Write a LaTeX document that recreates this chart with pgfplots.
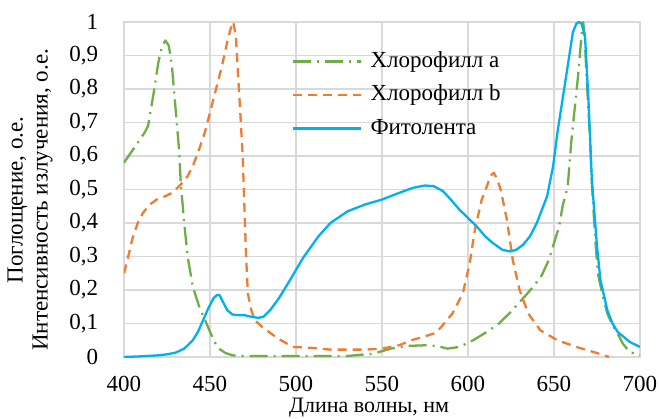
\documentclass[border=0pt]{standalone}
\usepackage{fontspec}
\setmainfont{Liberation Serif}
\usepackage{pgfplots}
\pgfplotsset{compat=1.18}
\definecolor{cga}{HTML}{70AD47}
\definecolor{cgb}{HTML}{ED7D31}
\definecolor{cfl}{HTML}{00B0F0}
\definecolor{gridc}{HTML}{D9D9D9}
\begin{document}
\fontsize{23}{26}\selectfont
\begin{tikzpicture}
\begin{axis}[
  scale only axis, width=516pt, height=335pt,
  xmin=400, xmax=700, ymin=0, ymax=1,
  xtick={400,450,...,700}, ytick={0,0.1,...,1},
  grid=major, major grid style={gridc, line width=1.3pt},
  axis line style={gridc, line width=1.3pt},
  major tick length=0pt,
  /pgf/number format/assume math mode=true,
  tick label style={font=\fontsize{23}{26}\selectfont},
  xticklabel style={anchor=base, yshift=-34pt, inner sep=0.5pt},
  yticklabel style={anchor=east, xshift=-18pt, /pgf/number format/.cd, fixed, precision=1, use comma},
  xlabel={Длина волны, нм},
  xlabel style={at={(axis description cs:0.475,-0.167)}, anchor=base, inner sep=0pt, font=\fontsize{22}{25}\selectfont},
  ylabel={Поглощение, о.е.\\Интенсивность излучения, о.е.},
  ylabel style={at={(axis description cs:-0.182,0.469)}, anchor=center, align=center, font=\fontsize{23}{25}\selectfont},
  legend style={draw=none, fill=none, inner sep=0pt, outer sep=0pt,
    at={(axis description cs:0.326,0.913)}, anchor=north west,
    nodes={inner sep=0pt, text height=16pt, text depth=5pt, font=\fontsize{23}{26}\selectfont},
    row sep=12.5pt, column sep=8pt},
  legend cell align=left,
  legend image code/.code={\draw[#1] (0pt,0pt) -- (68pt,0pt);},
  every axis plot/.append style={line width=2.3pt, line join=round},
]
\addplot[cga, dash pattern=on 18pt off 6pt on 2pt off 6pt] coordinates {
(400,0.58)(404,0.61)(408,0.64)(412,0.67)(414,0.69)(417,0.78)(420,0.88)(422,0.925)(424,0.945)(426,0.93)(427,0.90)(428,0.86)(430,0.74)(432,0.62)(433,0.52)(435,0.40)(437,0.30)(440,0.21)(444,0.146)(448,0.10)(450,0.075)(453,0.042)(456,0.022)(459,0.012)(463,0.005)(470,0.003)(500,0.003)(530,0.003)(545,0.01)(555,0.025)(565,0.033)(575,0.035)(582,0.033)(588,0.025)(595,0.03)(603,0.05)(611,0.075)(618,0.10)(624,0.13)(632,0.175)(638,0.21)(643,0.245)(647,0.29)(650,0.34)(653,0.39)(655,0.45)(658,0.51)(660,0.64)(662,0.74)(664,0.84)(666,0.96)(667,1.0)(668,0.94)(669,0.83)(671,0.65)(672,0.52)(674,0.35)(675.5,0.25)(678,0.19)(681,0.13)(684,0.095)(687,0.07)(690,0.04)(694,0.015)(700,0.005)
};
\addlegendentry{Хлорофилл a}
\addplot[cgb, dash pattern=on 9pt off 6pt] coordinates {
(400,0.25)(402,0.29)(405,0.355)(408,0.40)(411,0.43)(415,0.455)(419,0.47)(424,0.48)(428,0.49)(431,0.505)(434,0.52)(437,0.54)(440,0.57)(443,0.61)(447,0.67)(450,0.73)(453,0.79)(457,0.87)(460,0.94)(462,0.98)(463.5,1.0)(465,0.96)(466,0.87)(467.5,0.74)(469,0.60)(470,0.45)(471,0.30)(472,0.19)(474,0.14)(476,0.11)(481,0.087)(489,0.057)(498,0.03)(510,0.027)(520,0.022)(540,0.022)(550,0.025)(560,0.035)(567,0.05)(574,0.06)(580,0.07)(584,0.087)(591,0.13)(597,0.19)(601,0.28)(604,0.38)(608,0.47)(611,0.51)(613,0.54)(615,0.55)(617,0.53)(619,0.50)(622.6,0.41)(626,0.29)(630,0.20)(635,0.13)(642,0.08)(652,0.05)(663,0.03)(673,0.015)(682,0.0)
};
\addlegendentry{Хлорофилл b}
\addplot[cfl] coordinates {
(400,0.0)(410,0.002)(420,0.005)(425,0.008)(430,0.013)(435,0.025)(440,0.05)(443,0.075)(446,0.11)(449,0.145)(452,0.175)(454,0.185)(455.5,0.185)(457.5,0.165)(460,0.14)(463,0.127)(466,0.125)(470,0.125)(474,0.12)(478,0.117)(481,0.12)(485,0.14)(490,0.175)(496,0.225)(504,0.295)(513,0.36)(520,0.40)(530,0.435)(540,0.455)(550,0.47)(560,0.49)(568,0.505)(575,0.512)(580,0.51)(585.5,0.495)(590,0.47)(595,0.44)(600,0.415)(605,0.39)(610,0.36)(614.5,0.34)(620,0.32)(624.5,0.315)(628,0.32)(632,0.335)(636,0.36)(640,0.40)(643,0.44)(646,0.48)(649.5,0.57)(652,0.67)(655,0.77)(658,0.87)(661,0.97)(663,0.995)(664.5,1.0)(666,0.995)(668,0.96)(670,0.77)(672,0.53)(675,0.33)(677,0.23)(681,0.14)(684,0.10)(687,0.075)(694,0.045)(700,0.03)
};
\addlegendentry{Фитолента}
\end{axis}
\pgfresetboundingbox
\useasboundingbox (-124pt,-61pt) rectangle (535pt,357pt);
\end{tikzpicture}
\end{document}
